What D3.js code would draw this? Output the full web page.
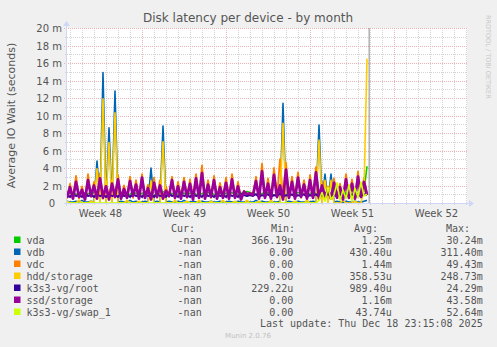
<!DOCTYPE html>
<html>
<head>
<meta charset="utf-8">
<script src="https://cdn.jsdelivr.net/npm/d3@7"></script>
<style>
body { margin: 0; background: #f0f0f0; }
svg { display: block; }
</style>
</head>
<body>
<div id="chart-area"></div>
<script>
/*
*    disk latency - by month
*/

var chartWidth = 497;
var chartHeight = 347;
var plot = {left: 67, right: 467, top: 28, bottom: 203};

// data: one sample every 6 hours starting at startTime
var startTime = Date.UTC(2025, 10, 23, 18, 0);
var endTime = Date.UTC(2025, 11, 27, 2, 0);
var nowTime = Date.UTC(2025, 11, 18, 22, 15);
var stepHours = 6;

var seriesNames = ["vda", "vdb", "vdc", "hdd/storage", "k3s3-vg/root", "ssd/storage", "k3s3-vg/swap_1"];
var seriesColors = ["#00cc00", "#0066b3", "#ff8000", "#ffcc00", "#330099", "#990099", "#ccff00"];

var vda = [1.3,1.1,1.2,1.0,1.1,1.2,0.9,1.1,1.0,1.2,1.1,1.0,1.2,1.1,0.9,1.0,1.1,1.2,1.0,1.1,0.9,1.0,1.2,1.1,1.0,1.1,
           1.0,1.2,1.1,0.9,1.0,1.1,1.3,1.2,1.0,1.1,0.9,1.0,1.2,1.1,1.0,1.1,1.2,1.0,0.9,1.1,1.0,1.2,1.1,1.0,0.9,1.1,1.0,
           1.1,1.0,1.2,0.9,1.0,1.1,1.2,1.3,1.2,1.1,1.0,0.9,1.1,1.0,1.2,1.1,0.9,1.0,1.1,1.2,1.0,1.1,0.9,1.0,1.2,1.1,1.0,1.1,
           1.0,1.2,1.1,0.9,1.0,1.1,1.2,1.0,0.9,1.1,1.0,1.2,1.1,1.0,0.9,1.1,1.0,1.2,1.3,4.2];
var vdb = [0.2,0.1,0.1,0.2,0.1,0.3,0.1,0.1,0.2,0.1,4.8,0.2,14.9,0.1,8.6,0.2,12.8,0.1,0.2,0.1,0.1,0.3,0.1,0.2,0.1,0.1,
           0.2,0.1,4.0,0.1,0.2,0.1,8.8,0.1,0.2,0.1,0.1,0.2,0.1,0.3,0.1,0.1,0.2,0.1,0.1,0.2,0.1,0.1,0.2,0.1,0.1,0.2,0.1,
           0.1,0.2,0.1,0.1,0.2,0.1,0.1,0.2,0.1,0.1,0.3,0.1,0.2,0.1,0.1,0.2,0.1,0.1,0.2,11.4,0.1,0.2,0.1,0.1,0.2,0.1,0.1,0.2,
           0.1,0.2,0.1,8.9,0.1,3.3,0.2,3.3,0.1,0.2,0.1,0.1,0.2,0.1,0.1,0.2,0.1,0.1,0.2,0.3];
var vdc = [0.5,2.2,0.6,3.1,0.5,1.9,0.4,3.3,0.7,2.4,0.6,3.4,0.5,2.5,0.5,2.6,0.6,3.2,0.5,2.0,0.7,3.0,0.6,2.6,0.5,3.3,
           0.6,2.1,0.5,2.9,0.6,2.6,0.5,1.9,0.7,3.0,0.5,2.4,0.6,2.9,0.6,2.7,0.5,3.3,0.6,4.3,0.5,2.6,0.6,3.1,0.5,2.3,0.6,
           2.9,0.5,3.3,0.6,2.4,0.5,1.4,1.0,1.2,0.9,3.0,0.5,4.5,0.6,2.8,0.5,4.0,0.6,5.0,0.5,4.6,0.6,3.0,0.5,3.5,0.6,2.6,0.5,
           3.2,0.6,4.1,0.5,2.5,0.6,1.9,0.5,2.8,0.6,2.2,0.5,3.3,0.6,2.7,0.5,3.6,0.6,2.9,1.0];
var hdd = [0.2,0.0,0.0,0.0,0.3,0.0,0.0,0.0,0.2,0.0,3.9,0.0,11.9,0.0,6.9,0.0,10.3,0.0,0.0,0.0,0.3,0.0,0.0,0.0,0.2,0.0,
           0.0,0.0,2.5,0.0,0.0,0.0,7.0,0.0,0.0,0.0,0.3,0.0,0.0,0.0,0.2,0.0,0.0,0.0,0.3,0.0,0.0,0.0,0.2,0.0,0.0,0.0,0.3,
           0.0,0.0,0.0,0.2,0.0,0.0,0.0,0.3,0.0,0.0,0.0,0.2,0.0,0.0,0.0,0.3,0.0,0.0,0.0,9.1,0.0,0.0,0.0,0.2,0.0,0.0,0.0,0.3,
           0.0,0.0,0.0,7.2,0.0,2.6,0.0,2.6,0.0,0.0,0.0,0.3,0.0,0.0,0.0,0.2,0.0,0.0,1.5,16.5];
var root = [0.9,0.7,1.0,0.8,0.9,0.7,1.1,0.8,0.9,0.7,1.0,0.8,0.9,0.7,1.0,0.8,0.9,0.7,1.1,0.8,0.9,0.7,1.0,0.8,0.9,0.7,
            1.0,0.8,0.9,0.7,1.0,0.8,0.9,0.7,1.1,0.8,0.9,0.7,1.0,0.8,0.9,0.7,1.0,0.8,0.9,0.7,1.1,0.8,0.9,0.7,1.0,0.8,0.9,
            0.7,1.0,0.8,0.9,0.7,1.0,0.9,0.8,0.9,0.8,1.0,0.7,0.9,0.8,1.0,0.7,0.9,0.8,1.1,0.7,0.9,0.8,1.0,0.7,0.9,0.8,1.0,0.7,
            0.9,0.8,1.0,0.7,0.9,0.8,1.1,0.7,0.9,0.8,1.0,0.7,0.9,0.8,1.0,0.7,0.9,0.8,1.0,0.9];
var ssd = [0.6,1.8,0.5,2.4,0.7,1.5,0.4,2.6,0.8,2.0,0.5,2.8,0.6,1.9,0.4,2.2,0.7,2.7,0.5,1.6,0.6,2.5,0.8,2.1,0.5,2.9,
           0.6,1.7,0.4,2.3,0.7,2.0,0.5,1.4,0.8,2.6,0.6,1.9,0.5,2.4,0.7,2.2,0.4,2.8,0.6,3.4,0.5,2.1,0.7,2.6,0.5,1.8,0.6,
           2.3,0.5,2.7,0.6,1.9,0.4,1.3,1.0,1.1,0.9,2.5,0.5,3.6,0.6,2.2,0.5,3.2,0.7,2.0,0.4,3.8,0.6,2.4,0.5,2.9,0.7,2.1,0.5,
           2.6,0.6,3.5,0.5,2.0,0.7,1.5,0.5,2.3,0.6,1.8,0.4,2.7,0.6,2.2,0.5,3.0,0.7,2.4,0.9];
var swap = [0,0,0,0,0,0,0,0,0,0,0,0,0,0,0,0,0,0,0,0,0,0,0,0,0,0,
            0,0,0,0,0,0,0,0,0,0,0,0,0,0,0,0,0,0,0,0,0,0,0,0,0,0,0,
            0,0,0,0,0,0,0,0,0,0,0,0,0,0,0,0,0,0,0,0,0,0,0,0,0,0,0,0,
            0,0,0,0.3,1.2,0.2,1.8,0.4,0.9,2.3,0.3,1.5,0.5,2.1,0.2,1.7,0.6,2.4,0.8,1.0];

var seriesValues = [vda, vdb, vdc, hdd, root, ssd, swap];
var seriesWidths = [1.6, 1.6, 1.8, 1.6, 2.0, 2.8, 1.6];

var weekLabels = ["Week 48", "Week 49", "Week 50", "Week 51", "Week 52"];
var yTicks = [0, 2, 4, 6, 8, 10, 12, 14, 16, 18, 20];

var curValues = ["-nan", "-nan", "-nan", "-nan", "-nan", "-nan", "-nan"];
var minValues = ["366.19u", "0.00", "0.00", "0.00", "229.22u", "0.00", "0.00"];
var avgValues = ["1.25m", "430.40u", "1.44m", "358.53u", "989.40u", "1.16m", "43.74u"];
var maxValues = ["30.24m", "311.40m", "49.43m", "248.73m", "24.29m", "43.58m", "52.64m"];
var lastUpdate = "Last update: Thu Dec 18 23:15:08 2025";

var svg = d3.select("#chart-area").append("svg").attr("width", chartWidth).attr("height", chartHeight);

svg.append("rect").attr("width", chartWidth).attr("height", chartHeight).attr("fill", "#f0f0f0");
svg.append("rect").attr("x", plot.left).attr("y", plot.top)
    .attr("width", plot.right - plot.left).attr("height", plot.bottom - plot.top).attr("fill", "#ffffff");

var x = d3.scaleUtc().domain([new Date(startTime), new Date(endTime)]).range([plot.left, plot.right]);
var y = d3.scaleLinear().domain([0, 20]).range([plot.bottom, plot.top]);

// grid
var grid = svg.append("g").attr("class", "grid");
var days = d3.utcDay.range(x.domain()[0], x.domain()[1]);
var sundays = d3.utcSunday.range(x.domain()[0], x.domain()[1]);
var minorColor = "#d4d4d4";
var majorColor = "#ebb4b4";

grid.selectAll(".vminor").data(days).enter().append("line")
    .attr("x1", (d) => Math.round(x(d)) + 0.5).attr("x2", (d) => Math.round(x(d)) + 0.5)
    .attr("y1", plot.top).attr("y2", plot.bottom + 2)
    .attr("stroke", minorColor).attr("stroke-dasharray", "1,1");

grid.selectAll(".hminor").data(d3.range(1, 21, 2)).enter().append("line")
    .attr("x1", plot.left - 2).attr("x2", plot.right)
    .attr("y1", (d) => Math.round(y(d)) + 0.5).attr("y2", (d) => Math.round(y(d)) + 0.5)
    .attr("stroke", minorColor).attr("stroke-dasharray", "1,1");

grid.selectAll(".vmajor").data(sundays).enter().append("line")
    .attr("x1", (d) => Math.round(x(d)) + 0.5).attr("x2", (d) => Math.round(x(d)) + 0.5)
    .attr("y1", plot.top).attr("y2", plot.bottom + 3)
    .attr("stroke", majorColor).attr("stroke-dasharray", "1,1");

grid.selectAll(".hmajor").data(yTicks.slice(1)).enter().append("line")
    .attr("x1", plot.left - 3).attr("x2", plot.right)
    .attr("y1", (d) => Math.round(y(d)) + 0.5).attr("y2", (d) => Math.round(y(d)) + 0.5)
    .attr("stroke", majorColor).attr("stroke-dasharray", "1,1");

// data lines
svg.append("clipPath").attr("id", "clip").append("rect")
    .attr("x", plot.left).attr("y", plot.top).attr("width", plot.right - plot.left).attr("height", plot.bottom - plot.top);

var line = d3.line()
    .x((d, i) => x(new Date(startTime + i * stepHours * 3600e3)))
    .y((d) => y(d));

var lines = svg.append("g").attr("clip-path", "url(#clip)");
for (var s = 0; s < seriesValues.length; s++) {
    lines.append("path").attr("d", line(seriesValues[s]))
        .attr("fill", "none").attr("stroke", seriesColors[s])
        .attr("stroke-width", seriesWidths[s])
        .attr("stroke-linejoin", "round");
}

lines.append("line").attr("x1", x(new Date(nowTime))).attr("x2", x(new Date(nowTime)))
    .attr("y1", plot.top).attr("y2", plot.bottom).attr("stroke", "#8a8a8a").attr("stroke-width", 1);

// axes lines + arrows
var axisColor = "#cfd6f8";
svg.append("line").attr("x1", plot.left - 3).attr("x2", plot.right + 2).attr("y1", plot.bottom + 0.5).attr("y2", plot.bottom + 0.5)
    .attr("stroke", axisColor);
svg.append("path").attr("d", "M" + (plot.right + 2) + "," + (plot.bottom - 3) + "L" + (plot.right + 7) + "," + (plot.bottom + 0.5) +
    "L" + (plot.right + 2) + "," + (plot.bottom + 4) + "Z").attr("fill", axisColor);
svg.append("line").attr("x1", plot.left - 0.5).attr("x2", plot.left - 0.5).attr("y1", plot.bottom + 3).attr("y2", plot.top - 2)
    .attr("stroke", axisColor);
svg.append("path").attr("d", "M" + (plot.left - 4) + "," + (plot.top - 2) + "L" + (plot.left - 0.5) + "," + (plot.top - 7) +
    "L" + (plot.left + 3) + "," + (plot.top - 2) + "Z").attr("fill", axisColor);

// axis labels: weeks start on Sunday, label sits mid-week
var fontColor = "#555555";
var weekStarts = d3.utcSunday.range(d3.utcSunday.floor(x.domain()[0]), x.domain()[1]);
var weekCenters = weekStarts.map((d) => new Date(d.getTime() + 3.5 * 864e5));
var xAxis = d3.axisBottom(x).tickValues(weekCenters).tickSize(0)
    .tickFormat((d, i) => weekLabels[i]);
var xg = svg.append("g").attr("transform", "translate(0," + plot.bottom + ")").call(xAxis);
xg.select(".domain").remove();
xg.selectAll("text").attr("y", 13.5).attr("dy", 0).attr("font-family", "DejaVu Sans").attr("font-size", "10px").attr("fill", fontColor);

var yAxis = d3.axisLeft(y).tickValues(yTicks).tickSize(0)
    .tickFormat((d) => d === 0 ? "0" : d + " m");
var yg = svg.append("g").attr("transform", "translate(" + (plot.left - 5) + ",0)").call(yAxis);
yg.select(".domain").remove();
yg.selectAll("text").attr("x", (d) => d === 0 ? -7 : 0).attr("dy", "0.35em")
    .attr("font-family", "DejaVu Sans").attr("font-size", "10px").attr("fill", fontColor);

// titles
svg.append("text").attr("x", 248).attr("y", 22).attr("text-anchor", "middle")
    .attr("font-family", "DejaVu Sans").attr("font-size", "12px").attr("fill", fontColor)
    .text("Disk latency per device - by month");

svg.append("text").attr("transform", "translate(15," + ((plot.top + plot.bottom) / 2) + ") rotate(-90)")
    .attr("text-anchor", "middle").attr("font-family", "DejaVu Sans").attr("font-size", "11px").attr("fill", fontColor)
    .text("Average IO Wait (seconds)");

svg.append("text").attr("transform", "translate(486,15) rotate(90)")
    .attr("font-family", "DejaVu Sans").attr("font-size", "6.5px").attr("fill", "#c8c8c8")
    .text("RRDTOOL / TOBI OETIKER");

// legend
var legend = svg.append("g").attr("font-family", "DejaVu Sans Mono").attr("font-size", "10px").attr("fill", fontColor);
var headers = [["Cur:", 195], ["Min:", 295], ["Avg:", 378], ["Max:", 470]];
headers.forEach((h) => {
    legend.append("text").attr("x", h[1]).attr("y", 231.5).attr("text-anchor", "end").text(h[0]);
});

var columns = [[curValues, 201.7], [minValues, 293.3], [avgValues, 391.7], [maxValues, 482.7]];
for (var r = 0; r < seriesNames.length; r++) {
    var rowY = 243.5 + r * 12;
    legend.append("rect").attr("x", 14).attr("y", rowY - 7).attr("width", 6.5).attr("height", 6.5).attr("fill", seriesColors[r]);
    legend.append("text").attr("x", 26.5).attr("y", rowY).text(seriesNames[r]);
    columns.forEach((c) => {
        legend.append("text").attr("x", c[1]).attr("y", rowY).attr("text-anchor", "end").text(c[0][r]);
    });
}
legend.append("text").attr("x", 482.7).attr("y", 327.3).attr("text-anchor", "end").text(lastUpdate);

svg.append("text").attr("x", 248).attr("y", 338).attr("text-anchor", "middle")
    .attr("font-family", "DejaVu Sans").attr("font-size", "7px").attr("fill", "#c0c0c0")
    .text("Munin 2.0.76");
</script>
</body>
</html>
